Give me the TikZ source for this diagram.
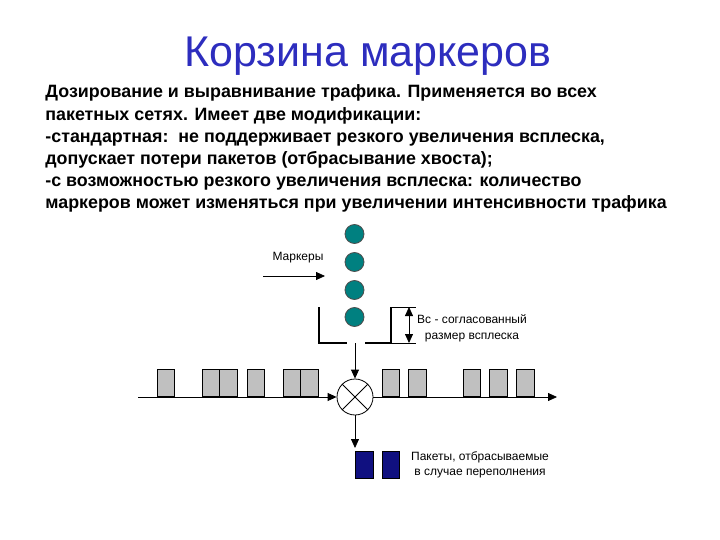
\documentclass[tikz,border=0pt]{standalone}
\usepackage{fontspec}
\setmainfont{Liberation Sans}
\usetikzlibrary{arrows.meta}

\begin{document}
\begin{tikzpicture}[x=1pt,y=-1pt,line width=0.8pt,
    >={Triangle[length=9pt,width=8pt]},
    packet/.style={draw,fill=pktgray,minimum width=17.6pt,minimum height=27pt,
        inner sep=0pt,anchor=south west},
    dropped/.style={draw,fill=dropblue,minimum width=17.5pt,minimum height=26.5pt,
        inner sep=0pt,anchor=north west},
    token/.style={circle,draw=black!70,fill=tokenteal,minimum size=19pt,inner sep=0pt},
    smalltext/.style={font=\fontsize{12}{15}\selectfont,align=center}]
    \definecolor{titleblue}{RGB}{45,45,190}
    \definecolor{pktgray}{RGB}{192,192,192}
    \definecolor{dropblue}{RGB}{16,16,128}
    \definecolor{tokenteal}{RGB}{0,128,128}

    \useasboundingbox (0,0) rectangle (720,540);

    % title and text
    \node[anchor=base,text=titleblue,font=\fontsize{43}{50}\selectfont]
        (title) at (368,67) {Корзина маркеров};
    \foreach \t [count=\i] in {
        {Дозирование и выравнивание трафика. Применяется во всех},
        {пакетных сетях. Имеет две модификации:},
        {-стандартная:\ \ не поддерживает резкого увеличения всплеска,},
        {допускает потери пакетов (отбрасывание хвоста);},
        {-с возможностью резкого увеличения всплеска: количество},
        {маркеров может изменяться при увеличении интенсивности трафика}}
        \node[anchor=base west,inner sep=0pt,font=\fontsize{17.85}{22}\selectfont\bfseries]
            (line\i) at (45,{98+22.2*(\i-1)}) {\t};

    % tokens
    \foreach \y [count=\i] in {234,262,290,317}
        \node[token] (tok\i) at (354.5,\y) {};
    \node[smalltext] (mklabel) at (298,258) {Маркеры};
    \coordinate (mkstart) at (263,276);
    \coordinate (mkend) at (325,276);
    \draw[->] (mkstart) -- (mkend);

    % bucket
    \draw[line width=1.6pt] (319,307) |- (347,343);
    \draw[line width=1.6pt] (365,343) -| (391,307);
    \draw (391,307) -- (416,307) (391,343) -- (416,343);
    \coordinate (bctop) at (409,307);
    \coordinate (bcbot) at (409,343);
    \draw[<->] (bctop) -- (bcbot);
    \node[smalltext,font=\fontsize{12}{16}\selectfont] (bclabel) at (472,328)
        {Вс - согласованный\\размер всплеска};

    % main line
    \node[circle,draw,fill=white,minimum size=36pt,inner sep=0pt] (mix) at (355,397) {};
    \draw (mix.north west) -- (mix.south east) (mix.north east) -- (mix.south west);
    \coordinate (in) at (138,397);
    \coordinate (out) at (557,397);
    \coordinate (gap) at (355,343);
    \draw[->] (in) -- (mix.west);
    \draw[->] (mix.east) -- (out);
    \draw[->] (gap) -- (mix.north);

    % packets
    \foreach \x [count=\i] in {156.7,201.7,219.3,246.7,282.7,300.3,381.7,408.3,462.7,489.3,516}
        \node[packet] (p\i) at (\x,397) {};

    % dropped packets
    \node[dropped] (d1) at (355,451) {};
    \node[dropped] (d2) at (381.5,451) {};
    \draw[->,shorten >=3pt] (mix.south) -- (d1.north west);
    \node[smalltext,font=\fontsize{12}{14.5}\selectfont] (droplabel) at (480,465)
        {Пакеты, отбрасываемые\\в случае переполнения};
\end{tikzpicture}
\end{document}
